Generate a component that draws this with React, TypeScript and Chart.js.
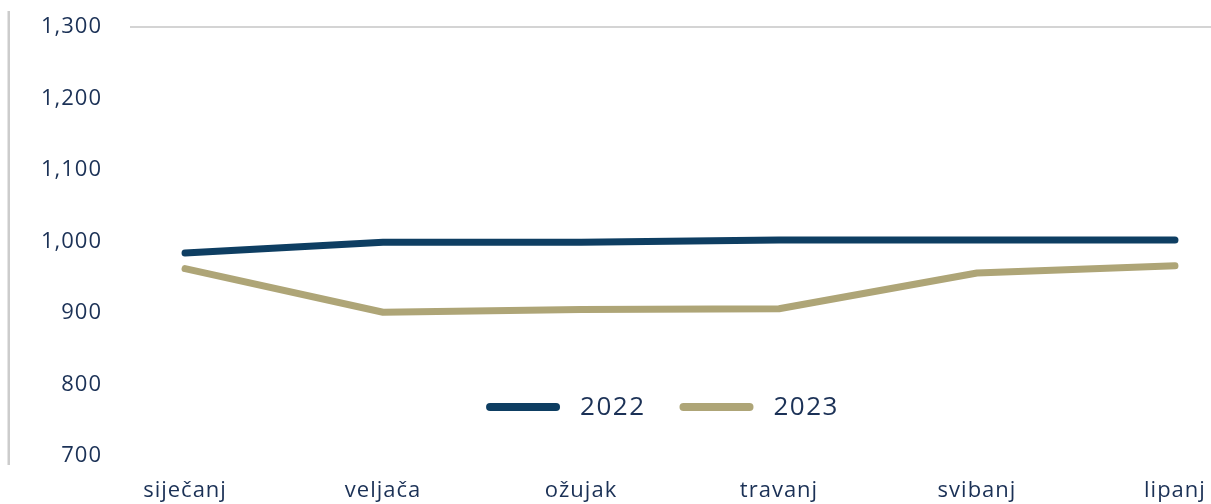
import React, { useEffect, useRef } from "react";
import { Chart, registerables } from "chart.js";

Chart.register(...registerables);

const months = ["siječanj", "veljača", "ožujak", "travanj", "svibanj", "lipanj"];
const seriesLabels = ["2022", "2023"];
const values2022 = [984, 999, 999, 1002, 1002, 1002];
const values2023 = [962, 901, 905, 906, 956, 966];
const yTicks = [700, 800, 900, 1000, 1100, 1200, 1300];

const NAVY = "#0e3e62";
const GOLD = "#aea577";
const TEXT = "#1b3156";
const FONT_FAMILY = '"Open Sans", "Noto Sans", sans-serif';

const spacingPlugin = {
  id: "spacing",
  beforeUpdate(chart: any) {
    chart.ctx.letterSpacing = "1px";
  },
  beforeDraw(chart: any) {
    chart.ctx.letterSpacing = "1px";
  },
};

const decorPlugin = {
  id: "decor",
  afterDraw(chart: any) {
    const ctx = chart.ctx;
    const area = chart.chartArea;
    ctx.save();
    // left grey rule
    ctx.fillStyle = "#cccccc";
    ctx.fillRect(7.5, 11, 2.5, 454);

    // legend inside the plot
    ctx.font = `500 26px ${FONT_FAMILY}`;
    ctx.letterSpacing = "1.5px";
    const lineW = 74;
    const gap = 20;
    const itemGap = 34;
    const items = chart.data.datasets.map((ds: any) => ({
      label: ds.label,
      color: ds.borderColor,
      tw: ctx.measureText(ds.label).width,
    }));
    let total = 0;
    items.forEach((it: any, i: number) => {
      total += lineW + gap + it.tw + (i > 0 ? itemGap : 0);
    });
    const cx = (area.left + area.right) / 2 - 8;
    const y = area.bottom - 49;
    let x = cx - total / 2;
    items.forEach((it: any) => {
      ctx.strokeStyle = it.color;
      ctx.lineWidth = 8;
      ctx.lineCap = "round";
      ctx.beginPath();
      ctx.moveTo(x + 4, y);
      ctx.lineTo(x + lineW - 4, y);
      ctx.stroke();
      ctx.fillStyle = TEXT;
      ctx.textAlign = "left";
      ctx.textBaseline = "middle";
      ctx.fillText(it.label, x + lineW + gap, y + 1);
      x += lineW + gap + it.tw + itemGap;
    });
    ctx.restore();
  },
};

export default function App() {
  const canvasRef = useRef<HTMLCanvasElement | null>(null);

  useEffect(() => {
    const canvas = canvasRef.current;
    if (!canvas) return;
    const tickFont = { family: FONT_FAMILY, size: 22, weight: "500" };
    const chart = new Chart(canvas, {
      type: "line",
      data: {
        datasets: [
          {
            label: seriesLabels[0],
            data: values2022.map((v, i) => ({ x: i, y: v })),
            borderColor: NAVY,
            backgroundColor: NAVY,
            borderWidth: 7,
            pointRadius: 0,
            borderCapStyle: "round",
            borderJoinStyle: "round",
            tension: 0,
            fill: false,
          },
          {
            label: seriesLabels[1],
            data: values2023.map((v, i) => ({ x: i, y: v })),
            borderColor: GOLD,
            backgroundColor: GOLD,
            borderWidth: 7,
            pointRadius: 0,
            borderCapStyle: "round",
            borderJoinStyle: "round",
            tension: 0,
            fill: false,
          },
        ],
      },
      options: {
        animation: false,
        responsive: false,
        devicePixelRatio: 1,
        layout: { padding: { top: 27, left: 0, right: 0, bottom: 0 } },
        plugins: {
          legend: { display: false },
          tooltip: { enabled: false },
        },
        scales: {
          x: {
            type: "linear",
            min: -0.278,
            max: 5.182,
            grid: { display: false, drawTicks: false },
            border: { display: false },
            afterBuildTicks: (s: any) => {
              s.ticks = months.map((_, i) => ({ value: i }));
            },
            afterFit: (s: any) => {
              s.height = 48;
              s.paddingLeft = 0;
              s.paddingRight = 0;
              s.paddingTop = 0;
              s.paddingBottom = 0;
            },
            ticks: {
              callback: (v: any) => months[v as number],
              color: TEXT,
              font: tickFont,
              padding: 22,
              maxRotation: 0,
              autoSkip: false,
            },
          },
          y: {
            min: 700,
            max: 1300,
            afterBuildTicks: (s: any) => {
              s.ticks = yTicks.map((v) => ({ value: v }));
            },
            afterFit: (s: any) => {
              s.width = 130;
              s.paddingTop = 0;
              s.paddingBottom = 0;
            },
            grid: {
              color: (c: any) =>
                c.tick && c.tick.value === 1300 ? "#d4d4d4" : "rgba(0,0,0,0)",
              lineWidth: 2,
              drawTicks: false,
            },
            border: { display: false },
            ticks: {
              callback: (v: any) => Number(v).toLocaleString("en-US"),
              color: TEXT,
              font: tickFont,
              padding: 28,
            },
          },
        },
      },
      plugins: [spacingPlugin, decorPlugin],
    } as any);
    return () => chart.destroy();
  }, []);

  return (
    <div style={{ position: "absolute", left: 0, top: 0, width: 1211, height: 504 }}>
      <canvas ref={canvasRef} width={1211} height={504} style={{ display: "block" }} />
    </div>
  );
}
